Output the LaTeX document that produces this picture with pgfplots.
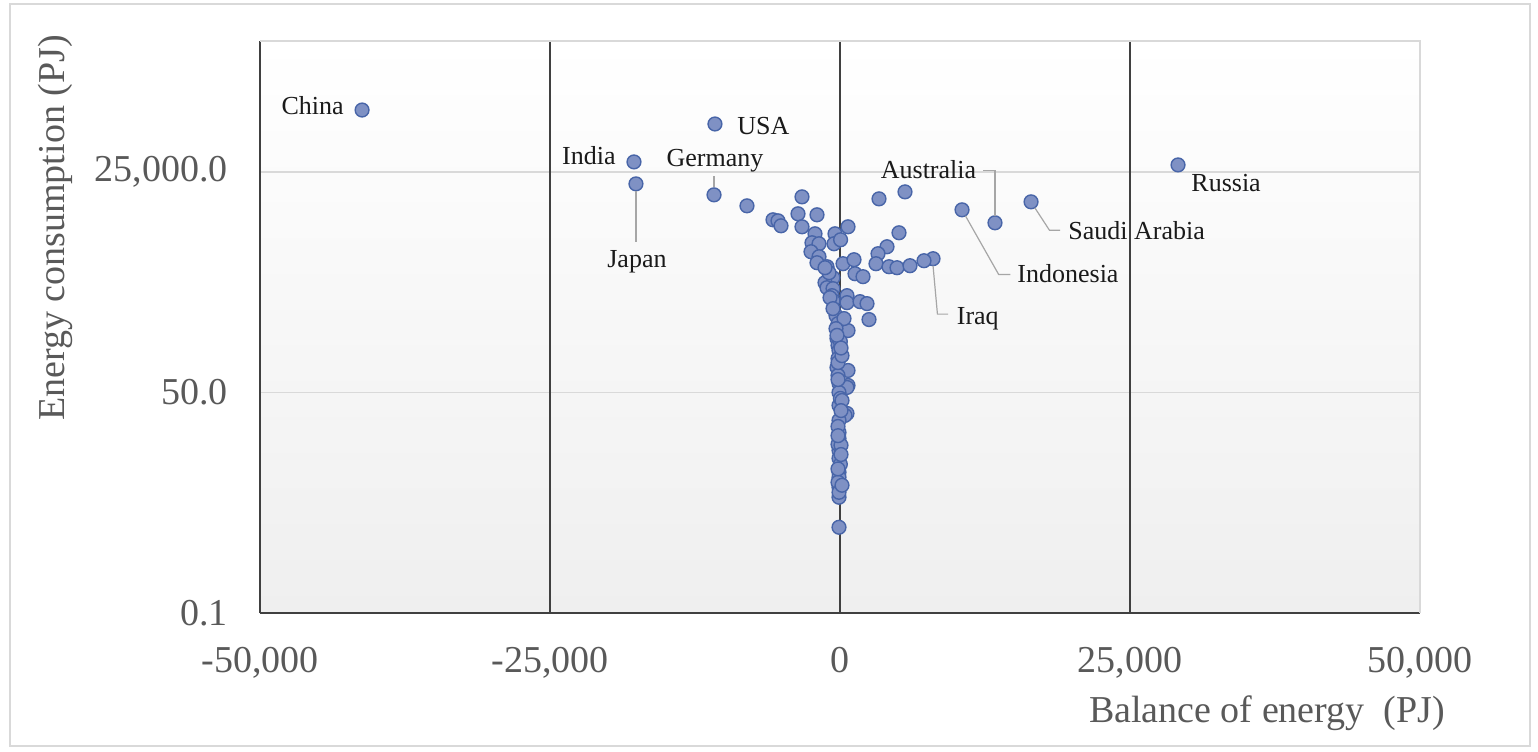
\documentclass[border=0pt]{standalone}
\usepackage{fontspec}
\setmainfont{Liberation Serif}
\usepackage{pgfplots}
\pgfplotsset{compat=1.18}
\definecolor{tickc}{HTML}{595959}
\definecolor{darkc}{HTML}{404040}
\definecolor{lgrid}{HTML}{D9D9D9}
\definecolor{mfill}{RGB}{127,145,196}
\definecolor{mdraw}{RGB}{72,101,168}
\definecolor{lead}{HTML}{A6A6A6}
\definecolor{labc}{HTML}{1A1A1A}
\begin{document}
\begin{tikzpicture}
\path (0,0) rectangle (769pt,375.5pt);
\draw[lgrid, line width=0.6pt] (5pt,2.5pt) rectangle (765pt,373.5pt);
\begin{axis}[
  at={(130pt,69pt)}, anchor=south west,
  scale only axis, width=580pt, height=286pt,
  xmin=-50000, xmax=50000,
  ymode=log, ymin=0.1, ymax=1e6,
  scaled x ticks=false,
  xtick={-50000,-25000,0,25000,50000},
  xticklabels={{-50,000},{-25,000},0,{25,000},{50,000}},
  ytick={0.1,50,25000},
  yticklabels={0.1,50.0,{25,000.0}},
  major tick length=0pt, minor tick num=0,
  ticklabel style={font=\fontsize{19}{22}\selectfont, text=tickc, inner sep=0pt},
  xticklabel shift=17pt, yticklabel shift=16pt,
  axis lines=left,
  axis line style={darkc, line width=1.2pt, -},
  ymajorgrids,
  major grid style={lgrid, line width=0.75pt},
  extra x ticks={-25000,0,25000},
  extra x tick labels={},
  extra x tick style={xmajorgrids=true, ymajorgrids=false, major grid style={darkc, line width=0.9pt}},
  axis background/.style={top color=white, bottom color={rgb,255:red,239;green,239;blue,239}},
  clip=false,
]
\draw[lgrid, line width=0.75pt] (rel axis cs:0,1) -- (rel axis cs:1,1) -- (rel axis cs:1,0);
\addplot[only marks, mark=*, mark size=3.45pt,
  mark options={fill=mfill, draw=mdraw, line width=0.7pt}] table {
x y
-41200 143000
-10780 96500
-17760 33140
-17590 17850
-10860 13100
29140 30450
13360 5960
16470 10760
10520 8590
8020 2166
-8020 9613
-3276 12380
-3621 7680
-1983 7466
-5776 6484
-5345 6305
-5086 5478
-3276 5326
690 5326
-431 4373
-2155 4373
-2414 3396
-1810 3302
-517 3302
50 3696
-2500 2638
-1810 2291
-1983 1935
-1121 1729
259 1882
1207 2106
1293 1420
1983 1306
-1034 1167
-603 1269
-1293 1103
-1121 958
-603 932
-690 765
603 765
-603 665
603 628
1724 646
2328 611
2500 390
-345 436
-172 348
690 286
3362 11700
5603 14250
5086 4500
4052 3035
3276 2493
3103 1882
4224 1729
4914 1681
6034 1779
7241 2047
-862 723
345 401
-603 531
-948 1460
-1293 1681
-259 228
-172 188
-86 163
-172 130
-259 101
690 92.9
-172 80.7
-86 64.4
690 60.9
603 57.6
-86 50.0
-86 34.7
603 27.7
431 26.2
-86 22.8
-86 16.2
-86 13.7
-86 9.79
-86 7.82
-86 5.27
-86 4.58
-86 3.46
-86 2.61
-86 1.12
-345 302
30 210
-172 116
30 42.3
-172 19.2
-172 11.6
30 6.60
-172 3.98
-86 3.00
172 141
172 39.9
86 11.3
172 3.66
-259 250
86 175
-172 72.0
86 30.0
-172 14.8
86 8.70
-172 5.80
};
\coordinate (cn) at (axis cs:-41200,143000);
\coordinate (us) at (axis cs:-10780,96500);
\coordinate (in) at (axis cs:-17760,33140);
\coordinate (jp) at (axis cs:-17590,17850);
\coordinate (de) at (axis cs:-10860,13100);
\coordinate (ru) at (axis cs:29140,30450);
\coordinate (au) at (axis cs:13360,5960);
\coordinate (sa) at (axis cs:16470,10760);
\coordinate (id) at (axis cs:10520,8590);
\coordinate (iq) at (axis cs:8020,2166);
\end{axis}
\tikzset{lab/.style={font=\fontsize{13}{15}\selectfont, text=labc, inner sep=0pt},
  ld/.style={lead, line width=0.6pt}}
\node[lab, anchor=base east] at ([xshift=-9pt, yshift=-2.25pt]cn) {China};
\node[lab, anchor=base west] at ([xshift=11pt, yshift=-5.5pt]us) {USA};
\node[lab, anchor=base east] at ([xshift=-9pt, yshift=-1.25pt]in) {India};
\node[lab, anchor=base] at ([xshift=0.5pt, yshift=14pt]de) {Germany};
\node[lab, anchor=base] at ([xshift=0.5pt, yshift=-42pt]jp) {Japan};
\node[lab, anchor=base east] at ([xshift=-9.2pt, yshift=22pt]au) {Australia};
\node[lab, anchor=base west] at ([xshift=18.5pt, yshift=-18.8pt]sa) {Saudi Arabia};
\node[lab, anchor=base west] at ([xshift=27.5pt, yshift=-36.2pt]id) {Indonesia};
\node[lab, anchor=base west] at ([xshift=11.7pt, yshift=-33pt]iq) {Iraq};
\node[lab, anchor=base west] at ([xshift=6.5pt, yshift=-13.3pt]ru) {Russia};
\draw[ld] ([yshift=3.7pt]de) -- ([yshift=9.5pt]de);
\draw[ld] ([yshift=-3.7pt]jp) -- ([yshift=-29pt]jp);
\draw[ld] ([xshift=-5.8pt, yshift=26.2pt]au) -- ([yshift=26.2pt]au) -- ([yshift=3.5pt]au);
\draw[ld] ([xshift=1.9pt, yshift=-3pt]sa) -- ([xshift=9.2pt, yshift=-14.2pt]sa) -- ([xshift=14.5pt, yshift=-14.2pt]sa);
\draw[ld] ([xshift=1.7pt, yshift=-3pt]id) -- ([xshift=18.3pt, yshift=-32.3pt]id) -- ([xshift=24.2pt, yshift=-32.3pt]id);
\draw[ld] ([yshift=-3.5pt]iq) -- ([xshift=2.2pt, yshift=-27.7pt]iq) -- ([xshift=7.5pt, yshift=-27.7pt]iq);
\node[font=\fontsize{19}{22}\selectfont, text=tickc, rotate=90] at (27.5pt,261.5pt) {Energy consumption (PJ)};
\node[font=\fontsize{19}{22}\selectfont, text=tickc] at (633.5pt,19pt) {Balance of energy\ \ (PJ)};
\end{tikzpicture}
\end{document}
